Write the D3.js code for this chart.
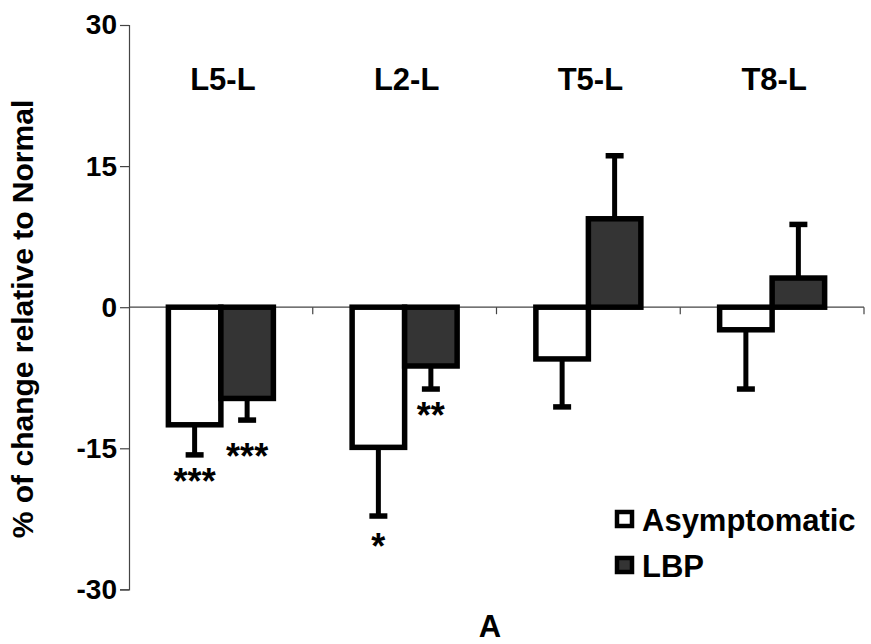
<!DOCTYPE html>
<html>
<head>
<meta charset="utf-8">
<script src="https://cdn.jsdelivr.net/npm/d3@7"></script>
<style>
  html, body { margin: 0; padding: 0; background: #fff; }
  svg { display: block; }
  text { font-family: "Liberation Sans", Arial, sans-serif; font-weight: bold; fill: #000; }
</style>
</head>
<body>
<svg id="chart" width="871" height="644"></svg>
<script>
// ---- data ----
const categories = ["L5-L", "L2-L", "T5-L", "T8-L"];
const series = ["Asymptomatic", "LBP"];
const asymptomatic = [-12.5, -14.9, -5.5, -2.4];
const asymptomaticErr = [3.2, 7.3, 5.1, 6.3];
const lbp = [-9.7, -6.25, 9.4, 3.1];
const lbpErr = [2.3, 2.45, 6.7, 5.7];
const yTicks = [-30, -15, 0, 15, 30];
const yTitle = "% of change relative to Normal";
const panelLabel = "A";
// significance marks: category, series, label, value at top of the mark
const annotations = [
  { cat: "L5-L", s: "Asymptomatic", label: "***", v: -17.1 },
  { cat: "L5-L", s: "LBP", label: "***", v: -14.4 },
  { cat: "L2-L", s: "Asymptomatic", label: "*", v: -24.0 },
  { cat: "L2-L", s: "LBP", label: "**", v: -10.1 }
];

const fills = { "Asymptomatic": "#ffffff", "LBP": "#343434" };
const svg = d3.select("#chart");

const y = d3.scaleLinear().domain([-30, 30]).range([589.4, 25]);
const x0 = d3.scaleBand().domain(categories).range([129, 864]).padding(0);
const x1 = d3.scaleBand().domain(series).range([0, x0.bandwidth()]).paddingInner(0).paddingOuter(0.75);

const rows = [];
categories.forEach((c, i) => {
  rows.push({ cat: c, s: "Asymptomatic", v: asymptomatic[i], e: asymptomaticErr[i] });
  rows.push({ cat: c, s: "LBP", v: lbp[i], e: lbpErr[i] });
});

// y axis
const yAxis = svg.append("g").attr("transform", "translate(129,0)")
  .call(d3.axisLeft(y).tickValues(yTicks).tickSize(9).tickPadding(3).tickFormat(d3.format("d")));
yAxis.select(".domain").attr("stroke", "#444").attr("stroke-width", 1.2);
yAxis.selectAll(".tick line").attr("stroke", "#444").attr("stroke-width", 1.2);
yAxis.selectAll(".tick text").attr("font-size", 28).attr("font-weight", "bold")
  .attr("font-family", "'Liberation Sans', Arial, sans-serif").attr("fill", "#000")
  .text(d => d < 0 ? "-" + Math.abs(d) : String(d));

// zero line with category boundary ticks
const xAxis = svg.append("g").attr("transform", `translate(0,${y(0)})`);
xAxis.append("line").attr("x1", 129).attr("x2", 864).attr("y1", 0).attr("y2", 0)
  .attr("stroke", "#444").attr("stroke-width", 1.2);
xAxis.selectAll("line.bt").data(categories.slice(1).concat(["end"])).join("line")
  .attr("class", "bt")
  .attr("x1", d => d === "end" ? 864 : x0(d)).attr("x2", d => d === "end" ? 864 : x0(d))
  .attr("y1", 0).attr("y2", 7).attr("stroke", "#444").attr("stroke-width", 1.2);

// error bars
const capW = 18;
const eb = svg.append("g");
rows.forEach(r => {
  const cx = x0(r.cat) + x1(r.s) + x1.bandwidth() / 2;
  const end = r.v >= 0 ? r.v + r.e : r.v - r.e;
  eb.append("line").attr("x1", cx).attr("x2", cx).attr("y1", y(r.v)).attr("y2", y(end))
    .attr("stroke", "#000").attr("stroke-width", 5);
  eb.append("line").attr("x1", cx - capW / 2).attr("x2", cx + capW / 2).attr("y1", y(end)).attr("y2", y(end))
    .attr("stroke", "#000").attr("stroke-width", 5.5);
});

// bars
svg.append("g").selectAll("rect").data(rows).join("rect")
  .attr("x", d => x0(d.cat) + x1(d.s))
  .attr("width", x1.bandwidth())
  .attr("y", d => y(Math.max(0, d.v)))
  .attr("height", d => Math.abs(y(d.v) - y(0)))
  .attr("fill", d => fills[d.s])
  .attr("stroke", "#000").attr("stroke-width", 5.5);

// category labels
svg.append("g").selectAll("text").data(categories).join("text")
  .attr("x", d => x0(d) + x0.bandwidth() / 2 + 2)
  .attr("y", 90)
  .attr("text-anchor", "middle").attr("font-size", 31).text(d => d);

// significance stars
svg.append("g").selectAll("text").data(annotations).join("text")
  .attr("x", d => x0(d.cat) + x1(d.s) + x1.bandwidth() / 2)
  .attr("y", d => y(d.v) + 26)
  .attr("text-anchor", "middle").attr("font-size", 36).text(d => d.label);

// y title
svg.append("text").attr("transform", "translate(33,319) rotate(-90)")
  .attr("text-anchor", "middle").attr("font-size", 30).text(yTitle);

// panel label
svg.append("text").attr("x", 490).attr("y", 637).attr("text-anchor", "middle")
  .attr("font-size", 31).text(panelLabel);

// legend
const legend = svg.append("g");
series.forEach((s, i) => {
  const ly = 531 + i * 46;
  legend.append("rect").attr("x", 617).attr("y", ly - 19).attr("width", 15).attr("height", 14)
    .attr("fill", fills[s]).attr("stroke", "#000").attr("stroke-width", 4.5);
  legend.append("text").attr("x", 642).attr("y", ly).attr("font-size", 31).text(s);
});
</script>
</body>
</html>
